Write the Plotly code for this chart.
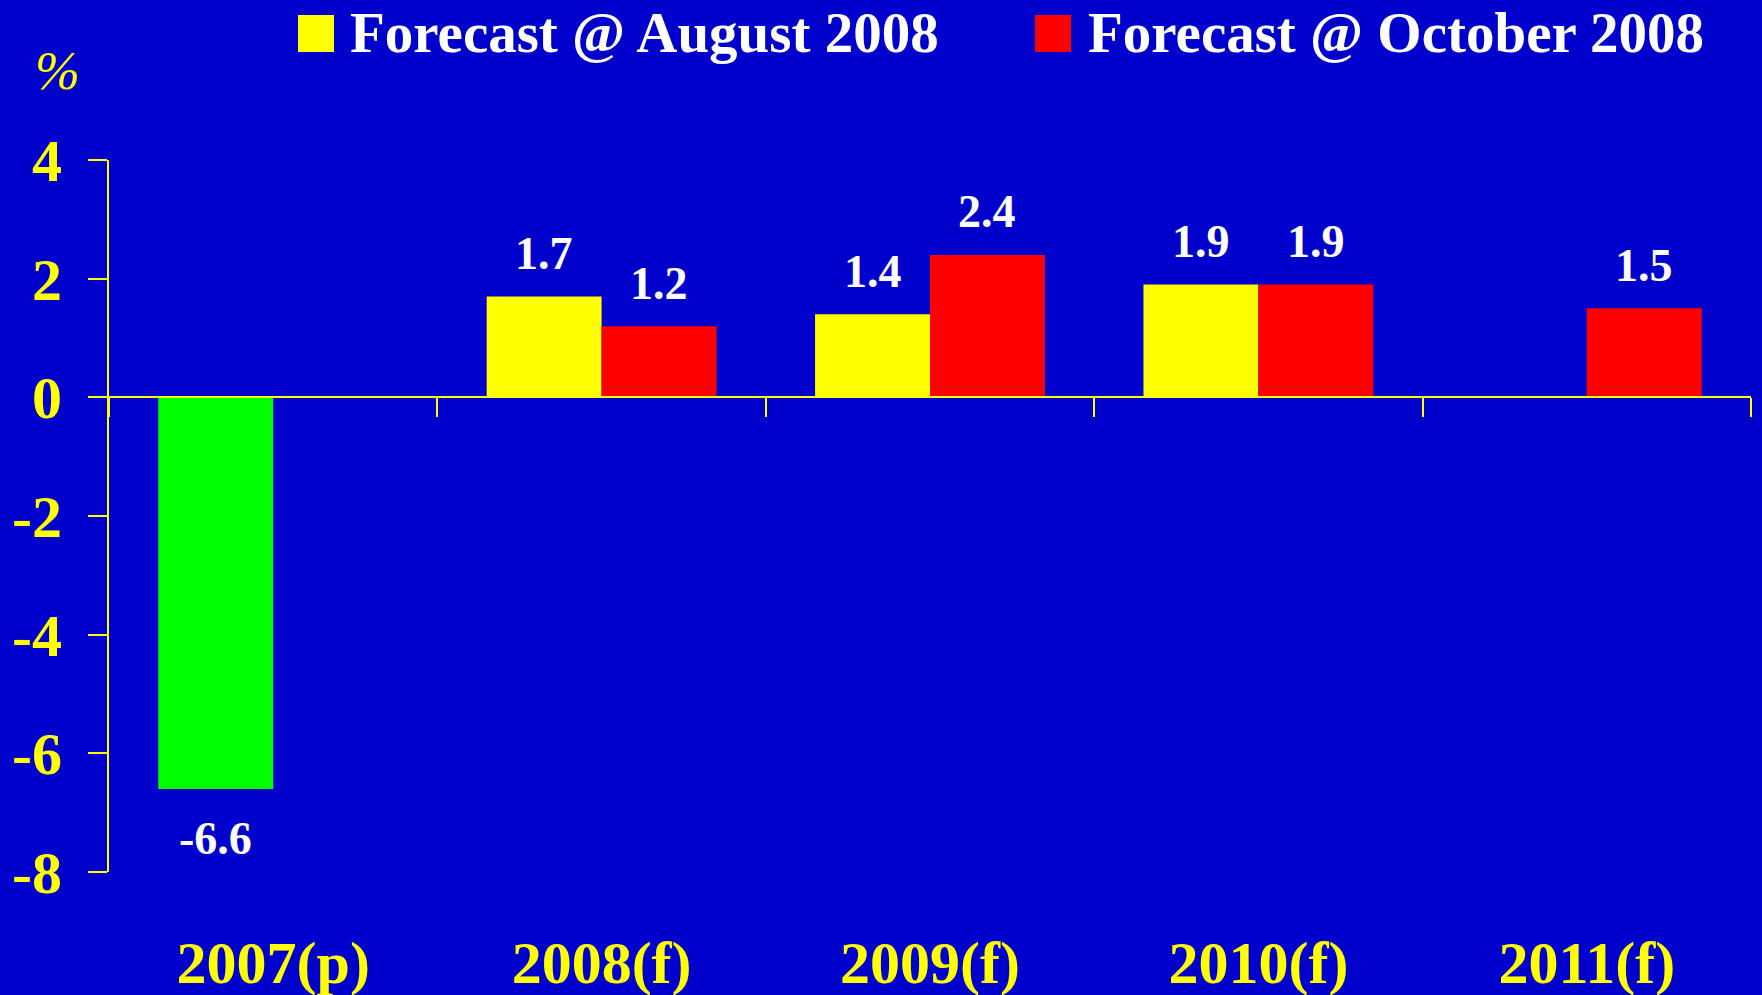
import plotly.graph_objects as go

# ---------------- data ----------------
categories = ["2007(p)", "2008(f)", "2009(f)", "2010(f)", "2011(f)"]
actual_2007 = [-6.6, None, None, None, None]
forecast_aug = [None, 1.7, 1.4, 1.9, None]
forecast_oct = [None, 1.2, 2.4, 1.9, 1.5]
series_names = ["Forecast @ August 2008", "Forecast @ October 2008"]
y_tick_values = [-8, -6, -4, -2, 0, 2, 4]
y_tick_labels = ["-8", "-6", "-4", "-2", "0", "2", "4"]
y_unit_label = "%"

# ---------------- style ----------------
BG = "#0000CC"
YELLOW = "#FFFF00"
RED = "#FF0000"
GREEN = "#00FF00"
WHITE = "#FFFFFF"
FONT = "Liberation Serif, Times New Roman, serif"

W, H = 1762, 995
ML, MR, MT, MB = 109, 11, 160, 123
PW = W - ML - MR
PH = H - MT - MB


def px_x(px):
    return (px - ML) / PW


def px_y(py):
    return (H - MB - py) / PH


fig = go.Figure()
fig.add_trace(go.Bar(x=categories, y=actual_2007, name="2007 (p)",
                     marker=dict(color=GREEN, line=dict(width=0)),
                     offsetgroup="a", showlegend=False, hoverinfo="skip"))
fig.add_trace(go.Bar(x=categories, y=forecast_aug, name=series_names[0],
                     marker=dict(color=YELLOW, line=dict(width=0)),
                     offsetgroup="a", showlegend=False, hoverinfo="skip"))
fig.add_trace(go.Bar(x=categories, y=forecast_oct, name=series_names[1],
                     marker=dict(color=RED, line=dict(width=0)),
                     offsetgroup="b", showlegend=False, hoverinfo="skip"))
# carrier for the zero-line category axis with boundary ticks
fig.add_trace(go.Scatter(x=categories, y=[0] * len(categories), xaxis="x2",
                         mode="markers", marker=dict(opacity=0, size=1),
                         showlegend=False, hoverinfo="skip"))

bar_half = PW / len(categories) * 0.7 / 4

annotations = []
for slot, series in ((0, actual_2007), (0, forecast_aug), (1, forecast_oct)):
    for cat, v in zip(categories, series):
        if v is None:
            continue
        annotations.append(dict(
            x=cat, y=v, xref="x", yref="y", text=f"{v:.1f}", showarrow=False,
            xshift=(-bar_half if slot == 0 else bar_half),
            yshift=(43 if v > 0 else -50), yanchor="middle", xanchor="center",
            font=dict(family=FONT, size=46, color=WHITE, weight="bold")))

# manual legend (large swatches)
legend_items = [(298, 348, YELLOW, series_names[0]), (1035, 1086, RED, series_names[1])]
shapes = []
for sx, tx, col, name in legend_items:
    shapes.append(dict(type="rect", xref="paper", yref="paper",
                       x0=px_x(sx), x1=px_x(sx + 36), y0=px_y(52), y1=px_y(15),
                       fillcolor=col, line=dict(width=0)))
    annotations.append(dict(x=px_x(tx), y=px_y(33), xref="paper", yref="paper",
                            text=name, showarrow=False, xanchor="left", yanchor="middle",
                            font=dict(family=FONT, size=57, color=WHITE, weight="bold")))

annotations.append(dict(x=px_x(57), y=px_y(71), xref="paper", yref="paper",
                        text=f"<i>{y_unit_label}</i>", showarrow=False,
                        xanchor="center", yanchor="middle",
                        font=dict(family=FONT, size=54, color=YELLOW)))

fig.update_layout(
    width=W, height=H,
    margin=dict(l=ML, r=MR, t=MT, b=MB, pad=0),
    paper_bgcolor=BG, plot_bgcolor=BG,
    barmode="group", bargap=0.3, bargroupgap=0,
    showlegend=False,
    annotations=annotations, shapes=shapes,
    xaxis=dict(type="category", categoryorder="array", categoryarray=categories,
               showline=False, showgrid=False, zeroline=False, ticks="",
               tickfont=dict(family=FONT, size=60, color=YELLOW, weight="bold"),
               ticklabelstandoff=50, automargin=False, fixedrange=True),
    xaxis2=dict(type="category", categoryorder="array", categoryarray=categories,
                matches="x", overlaying="x", anchor="free", position=8 / 12,
                showline=True, linecolor=YELLOW, linewidth=2,
                ticks="outside", tickson="boundaries", ticklen=19, tickwidth=2,
                tickcolor=YELLOW, showticklabels=False, showgrid=False,
                zeroline=False, automargin=False),
    yaxis=dict(range=[-8, 4], tickvals=y_tick_values, ticktext=y_tick_labels,
               showline=True, linecolor=YELLOW, linewidth=2,
               ticks="outside", ticklen=19, tickwidth=2, tickcolor=YELLOW,
               showgrid=False, zeroline=False,
               tickfont=dict(family=FONT, size=60, color=YELLOW, weight="bold"),
               ticklabelstandoff=14, automargin=False, fixedrange=True),
)

fig.write_html("out.html", config={"displayModeBar": False},
               post_script="document.body.style.margin='0';document.body.style.overflow='hidden';")
